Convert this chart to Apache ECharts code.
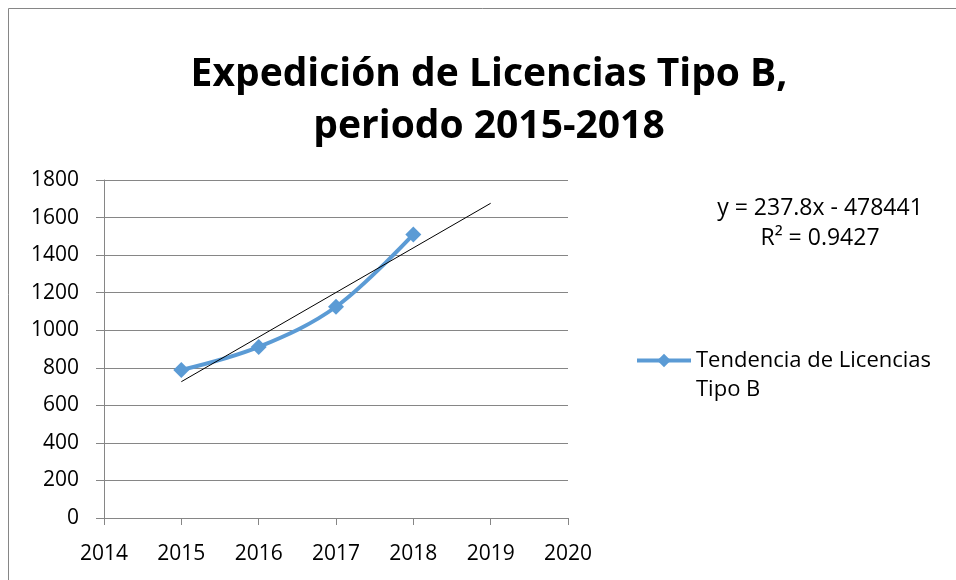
<!DOCTYPE html>
<html>
<head>
<meta charset="utf-8">
<script src="https://cdn.jsdelivr.net/npm/echarts@6/dist/echarts.min.js"></script>
<style>
  html, body { margin: 0; padding: 0; background: #fff; }
  #chart { width: 956px; height: 580px; }
</style>
</head>
<body>
<div id="chart"></div>
<script>
// values
const years = [2015, 2016, 2017, 2018];
const licencias = [788, 911, 1125, 1510];
// linear trendline drawn by the spreadsheet, from 2015 to 2019
const trendYears = [2015, 2019];
const trendValues = [726, 1676];
const yTicks = [0, 1800, 200];
const xTicks = [2014, 2020, 1];

const seriesName = 'Tendencia de Licencias Tipo B';
const font = 'Open Sans';

let chart = echarts.init(document.getElementById('chart'));
let option = {
  backgroundColor: '#fff',
  animation: false,
  textStyle: { fontFamily: font, color: '#000' },
  title: [
    {
      text: 'Expedición de Licencias Tipo B,\nperiodo 2015-2018',
      left: 484,
      top: 44,
      textAlign: 'center',
      textStyle: { fontFamily: font, fontWeight: 'bold', fontSize: 39, lineHeight: 52, color: '#000' }
    },
    {
      text: 'y = 237.8x - 478441\nR² = 0.9427',
      left: 815,
      top: 188,
      textAlign: 'center',
      textStyle: { fontFamily: font, fontWeight: 'normal', fontSize: 23, lineHeight: 30, color: '#000' }
    }
  ],
  graphic: [
    {
      type: 'rect',
      shape: { x: 8.5, y: 8.5, width: 1000, height: 1000 },
      style: { fill: 'none', stroke: '#868686', lineWidth: 1 },
      silent: true
    }
  ],
  legend: {
    left: 630,
    top: 312,
    itemWidth: 54,
    itemHeight: 17,
    data: [seriesName],
    lineStyle: { width: 4 },
    // empty first row keeps the first text row level with the legend symbol
    formatter: name => ' \n' + name.replace(' Tipo', '\nTipo'),
    textStyle: { fontFamily: font, fontSize: 22, lineHeight: 29, color: '#000' }
  },
  grid: { left: 104, right: 388, top: 180, bottom: 62 },
  xAxis: {
    type: 'value',
    min: xTicks[0],
    max: xTicks[1],
    interval: xTicks[2],
    axisLine: { lineStyle: { color: '#868686' } },
    axisTick: { show: true, length: 7, lineStyle: { color: '#868686' } },
    axisLabel: { fontFamily: font, fontSize: 21, color: '#000', margin: 26, formatter: v => String(v) },
    splitLine: { show: false }
  },
  yAxis: {
    type: 'value',
    min: yTicks[0],
    max: yTicks[1],
    interval: yTicks[2],
    axisLine: { show: true, lineStyle: { color: '#868686' } },
    axisTick: { show: true, length: 8, lineStyle: { color: '#868686' } },
    axisLabel: { fontFamily: font, fontSize: 21, color: '#000', margin: 25, formatter: v => String(v) },
    splitLine: { show: true, lineStyle: { color: '#868686', width: 1 } }
  },
  series: [
    {
      name: seriesName,
      type: 'line',
      smooth: 0.35,
      data: years.map((y, i) => [y, licencias[i]]),
      symbol: 'diamond',
      symbolSize: 16,
      lineStyle: { color: '#5B9BD5', width: 4 },
      itemStyle: { color: '#5B9BD5' },
      z: 3
    },
    {
      name: 'trend',
      type: 'line',
      data: trendYears.map((y, i) => [y, trendValues[i]]),
      symbol: 'none',
      lineStyle: { color: '#000', width: 1 },
      z: 4,
      silent: true
    }
  ]
};
chart.setOption(option);
</script>
</body>
</html>
